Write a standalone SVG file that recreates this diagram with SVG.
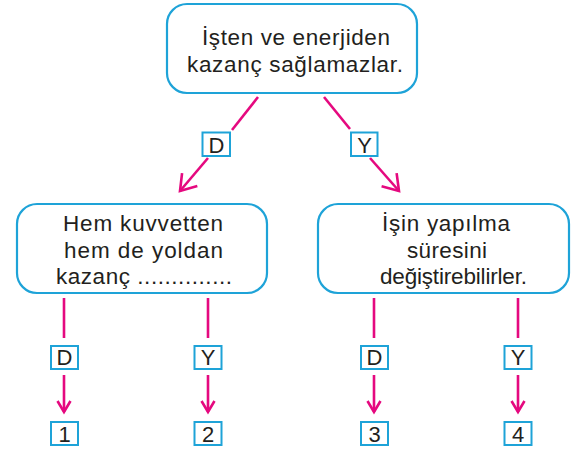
<svg xmlns="http://www.w3.org/2000/svg" width="581" height="450" viewBox="0 0 581 450">
<style>
.box{fill:#fff;stroke:#1ea3d8;stroke-width:2.2}
.lbl{fill:#fff;stroke:#1ea3d8;stroke-width:2}
.t{font-family:"Liberation Sans",Arial,sans-serif;font-size:22.5px;fill:#231f20;text-anchor:middle}
.l{font-family:"Liberation Sans",Arial,sans-serif;font-size:22px;fill:#231f20;text-anchor:middle}
.c{stroke:#e5097f;stroke-width:2.6;fill:none}
</style>
<defs>
<marker id="big" markerUnits="userSpaceOnUse" orient="auto" markerWidth="22" markerHeight="26" viewBox="-18 -13 22 26" refX="0" refY="0" overflow="visible">
<path d="M-15,-10 L0,0 L-15,10" fill="none" stroke="#e5097f" stroke-width="2.6"/>
</marker>
<marker id="small" markerUnits="userSpaceOnUse" orient="auto" markerWidth="16" markerHeight="18" viewBox="-13 -9 16 18" refX="0" refY="0" overflow="visible">
<path d="M-11,-6.5 L0,0 L-11,6.5" fill="none" stroke="#e5097f" stroke-width="2.6"/>
</marker>
</defs>
<g id="connectors">
<line class="c" x1="258" y1="97" x2="232" y2="130"/>
<line class="c" x1="208" y1="158" x2="180" y2="191" marker-end="url(#big)"/>
<line class="c" x1="324" y1="97" x2="350" y2="129"/>
<line class="c" x1="370" y1="158" x2="399" y2="191" marker-end="url(#big)"/>
<line class="c" x1="64" y1="298" x2="64" y2="338"/>
<line class="c" x1="64" y1="375" x2="64" y2="412" marker-end="url(#small)"/>
<line class="c" x1="208" y1="298" x2="208" y2="338"/>
<line class="c" x1="208" y1="375" x2="208" y2="412" marker-end="url(#small)"/>
<line class="c" x1="374" y1="298" x2="374" y2="338"/>
<line class="c" x1="374" y1="375" x2="374" y2="412" marker-end="url(#small)"/>
<line class="c" x1="518" y1="298" x2="518" y2="338"/>
<line class="c" x1="518" y1="375" x2="518" y2="412" marker-end="url(#small)"/>
</g>
<g id="top">
<rect class="box" x="167" y="4" width="250" height="89" rx="20"/>
<text class="t" x="296" y="45" textLength="188">İşten ve enerjiden</text>
<text class="t" x="295" y="72" textLength="216">kazanç sağlamazlar.</text>
</g>
<g id="left">
<rect class="box" x="17" y="204" width="250" height="89" rx="20"/>
<text class="t" x="143" y="231" textLength="160">Hem kuvvetten</text>
<text class="t" x="143.5" y="258" textLength="159">hem de yoldan</text>
<text class="t" x="144" y="284" textLength="176">kazanç ..............</text>
</g>
<g id="right">
<rect class="box" x="318" y="204" width="251" height="89" rx="20"/>
<text class="t" x="446" y="231" textLength="128">İşin yapılma</text>
<text class="t" x="447" y="258" textLength="80">süresini</text>
<text class="t" x="453.5" y="284" textLength="147">değiştirebilirler.</text>
</g>
<g id="lblD1"><rect class="lbl" x="202.5" y="132.5" width="27.5" height="23.5"/><text class="l" x="216.5" y="152.5">D</text></g>
<g id="lblY1"><rect class="lbl" x="351" y="132.5" width="26.5" height="23.5"/><text class="l" x="364.5" y="152.5">Y</text></g>
<g id="lblD2"><rect class="lbl" x="51" y="346" width="27" height="23"/><text class="l" x="64.5" y="365">D</text></g>
<g id="lblY2"><rect class="lbl" x="194.5" y="346" width="27" height="23"/><text class="l" x="208" y="365">Y</text></g>
<g id="lblD3"><rect class="lbl" x="361" y="346" width="27" height="23"/><text class="l" x="374.5" y="365">D</text></g>
<g id="lblY3"><rect class="lbl" x="504.5" y="346" width="27" height="23"/><text class="l" x="518" y="365">Y</text></g>
<g id="n1"><rect class="lbl" x="51" y="422" width="27" height="23"/><text class="l" x="64.5" y="442">1</text></g>
<g id="n2"><rect class="lbl" x="194.5" y="422" width="27" height="23"/><text class="l" x="208" y="442">2</text></g>
<g id="n3"><rect class="lbl" x="361" y="422" width="27" height="23"/><text class="l" x="374.5" y="442">3</text></g>
<g id="n4"><rect class="lbl" x="504.5" y="422" width="27" height="23"/><text class="l" x="518" y="442">4</text></g>
</svg>
